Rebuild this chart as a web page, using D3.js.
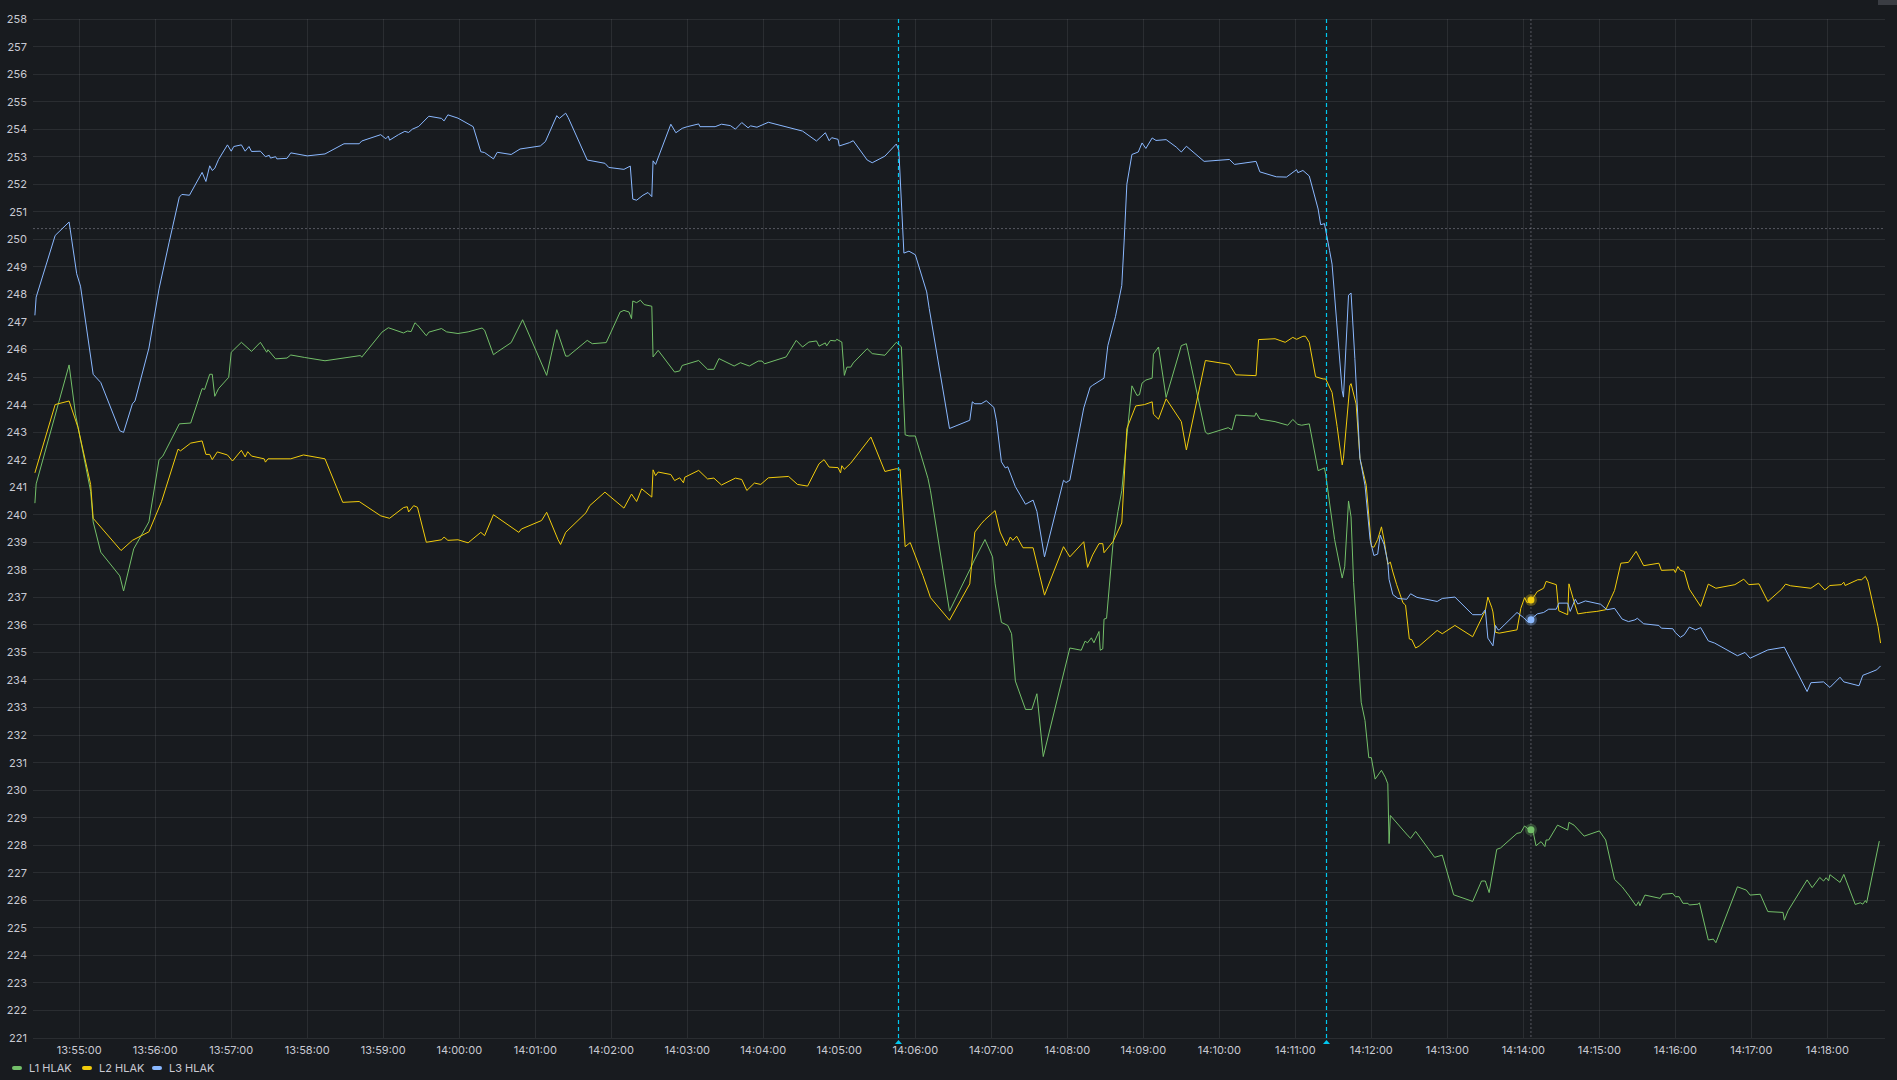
<!DOCTYPE html>
<html><head><meta charset="utf-8">
<script src="https://cdn.jsdelivr.net/npm/d3@7"></script>
<style>
html,body{margin:0;padding:0;background:#181b1f;overflow:hidden}
svg{display:block;font-family:Inter,"Noto Sans",sans-serif}
</style></head><body>
<svg id="chart" width="1897" height="1080"></svg>
<script>
// ---- data (time = seconds after 13:55:00) ----
const baseClock = "13:55:00";
const xDomainSec = [-36.5, 1425.5];
const yDomain = [221, 258];
const yTickValues = d3.range(221, 259);
const seriesNames = ["L1 HLAK", "L2 HLAK", "L3 HLAK"];
const seriesColors = ["#73BF69", "#F2CC0C", "#8AB8FF"];

const l1Sec = [-35,-34,-8,-3,9,11,17,32,35,43,55,63,66,79,88,97,99,103,105,107,110,118,120,128,136,143,148,149,155,164,167,178,194,222,223,239,244,256,259,262,265,267,274,276,286,290,299,307,318,320,327,330,341,350,369,377,384,386,401,405,416,427,430,434,436,437,440,443,446,452,453,457,470,474,476,489,496,501,505,517,522,529,536,539,541,558,566,571,576,582,584,589,590,593,597,598,602,604,606,609,611,622,626,636,645,649,652,655,660,670,672,687,703,707,715,721,723,728,733,736,739,747,752,756,761,782,791,794,796,799,801,805,806,808,809,811,816,820,823,827,831,835,837,839,842,847,848,852,858,870,874,889,891,907,910,913,928,929,932,944,954,958,962,965,971,978,983,984,991,997,999,1002,1004,1006,1012,1015,1018,1020,1023,1028,1031,1033,1034,1035,1049,1051,1055,1070,1076,1085,1100,1107,1110,1113,1119,1122,1135,1138,1141,1144,1147,1148,1150,1154,1157,1158,1160,1167,1175,1176,1180,1188,1200,1205,1212,1218,1223,1229,1231,1232,1236,1248,1250,1258,1260,1263,1266,1270,1271,1278,1279,1286,1290,1292,1309,1316,1319,1327,1333,1345,1346,1349,1364,1368,1374,1377,1379,1381,1382,1390,1393,1402,1406,1408,1410,1411,1421];
const l1Val = [240.42,241.12,245.44,243.66,240.85,239.74,238.64,237.78,237.23,238.76,239.74,242.0,242.13,243.3,243.33,244.58,244.55,245.1,245.1,244.3,244.58,244.99,245.9,246.26,245.93,246.26,245.9,245.99,245.66,245.69,245.8,245.71,245.59,245.78,245.72,246.63,246.79,246.6,246.67,246.65,246.97,246.89,246.5,246.63,246.76,246.64,246.58,246.64,246.78,246.7,245.81,245.91,246.25,247.08,245.06,246.72,245.76,245.76,246.33,246.21,246.25,247.36,247.42,247.36,247.12,247.76,247.7,247.79,247.63,247.57,245.73,245.97,245.18,245.22,245.42,245.6,245.28,245.28,245.67,245.4,245.52,245.4,245.58,245.58,245.48,245.73,246.33,246.09,246.27,246.31,246.12,246.24,246.13,246.33,246.31,246.37,246.27,245.06,245.36,245.36,245.51,246.03,245.85,245.79,246.26,246.1,242.9,242.86,242.86,241.32,240.87,236.5,238.0,238.39,239.1,238.47,237.49,236.09,235.98,235.68,233.96,232.93,232.93,233.5,231.22,235.16,235.08,235.41,235.35,235.53,235.35,235.76,235.08,235.13,236.21,236.24,238.92,240.12,240.87,242.83,244.68,244.33,244.36,244.78,244.89,244.96,245.83,246.09,244.26,246.14,246.21,243.0,242.93,243.16,243.08,243.62,243.58,243.7,243.47,243.38,243.25,243.46,243.28,243.25,243.3,241.6,241.7,241.45,239.1,237.7,238.11,240.5,239.92,237.54,233.19,232.53,231.18,231.18,230.4,230.72,230.47,230.23,228.06,229.08,228.34,228.25,228.5,227.56,227.64,226.2,225.96,226.7,226.7,226.28,227.85,227.9,228.43,228.46,228.7,228.58,228.55,228.43,227.98,228.13,227.95,228.19,228.19,228.73,228.55,228.83,228.73,228.33,228.52,228.19,226.76,226.49,226.19,225.8,225.95,225.8,226.19,226.07,226.22,226.25,226.13,226.13,225.89,225.89,225.83,225.86,225.91,224.56,224.59,224.46,226.49,226.37,226.19,226.22,225.59,225.56,225.28,225.62,226.74,226.46,226.83,226.7,226.82,226.71,226.93,226.65,226.94,225.85,225.91,225.86,225.99,225.91,228.15];

const l2Sec = [-35,-19,-8,-1,9,11,33,42,55,65,78,80,88,97,100,103,105,109,117,121,128,131,133,136,146,147,149,167,177,194,208,221,238,245,256,259,260,264,267,274,286,288,291,299,307,317,320,327,347,349,365,369,378,380,384,400,403,415,430,436,440,444,452,453,455,457,467,470,474,477,478,489,496,501,507,518,523,527,533,538,544,560,567,575,584,588,592,599,601,602,604,609,625,636,645,648,652,656,666,672,687,703,707,712,715,723,727,732,735,737,740,745,753,762,777,782,793,796,800,805,808,809,816,823,827,834,841,847,848,852,858,870,874,889,908,913,929,931,944,952,958,961,966,968,971,976,982,984,989,993,997,998,1003,1004,1008,1011,1016,1020,1022,1025,1028,1030,1033,1035,1037,1040,1045,1047,1050,1052,1055,1058,1072,1076,1086,1100,1110,1112,1115,1116,1118,1121,1135,1138,1141,1143,1147,1151,1156,1158,1166,1168,1175,1176,1180,1183,1190,1198,1205,1212,1217,1223,1229,1235,1247,1249,1259,1260,1262,1264,1267,1271,1280,1286,1292,1307,1314,1318,1326,1333,1344,1347,1351,1367,1373,1378,1382,1391,1393,1394,1404,1407,1410,1412,1417,1420,1422];
const l2Val = [241.52,244.0,244.13,243.17,241.1,239.87,238.7,239.07,239.38,240.48,242.38,242.32,242.6,242.68,242.19,242.19,242.0,242.28,242.17,241.95,242.34,242.1,242.29,242.13,242.03,241.91,242.03,242.03,242.17,242.03,240.45,240.48,239.96,239.87,240.26,240.29,240.1,240.33,240.27,239.0,239.09,239.19,239.07,239.09,238.98,239.36,239.24,240.0,239.36,239.48,239.79,240.09,239.09,238.92,239.36,240.07,240.33,240.82,240.24,240.75,240.48,240.94,240.64,241.63,241.42,241.55,241.46,241.24,241.34,241.16,241.36,241.61,241.3,241.33,241.08,241.33,241.28,240.88,241.15,241.1,241.34,241.39,241.1,241.04,241.85,242.0,241.73,241.71,241.52,241.78,241.65,241.87,242.82,241.57,241.67,241.65,238.84,238.99,237.79,236.99,236.17,237.49,239.37,239.67,239.82,240.15,239.37,238.87,239.19,239.07,239.22,238.8,238.8,237.08,238.84,238.47,239.02,238.09,238.54,238.95,238.95,238.62,239.02,239.7,243.13,243.95,244.0,244.1,243.65,243.47,244.21,243.38,242.35,245.6,245.46,245.08,245.05,246.36,246.39,246.26,246.44,246.37,246.48,246.48,246.26,245.01,244.93,244.93,244.44,243.2,241.81,242.05,244.68,244.76,244.02,242.05,241.07,238.85,238.82,239.1,239.56,239.1,238.2,238.28,237.92,237.46,236.8,236.72,235.49,235.46,235.16,235.24,235.8,235.68,235.98,235.57,236.52,237.01,236.64,236.47,235.73,235.7,235.82,236.6,236.99,236.81,236.93,237.21,237.33,237.58,237.46,236.51,236.37,237.49,236.85,236.4,236.45,236.49,236.55,237.25,238.24,238.27,238.67,238.15,238.24,237.98,238.0,237.9,238.12,237.98,237.94,237.3,236.67,237.48,237.33,237.46,237.66,237.46,237.49,236.85,237.3,237.48,237.42,237.33,237.52,237.27,237.43,237.46,237.55,237.43,237.64,237.64,237.76,237.58,236.55,235.94,235.34];

const l3Sec = [-35,-34,-19,-8,-2,1,11,17,32,35,42,44,55,63,71,79,81,87,97,100,103,105,107,110,117,120,122,128,131,134,136,143,147,150,151,155,156,164,167,180,194,209,221,223,238,242,244,245,252,257,260,263,268,276,286,288,291,299,311,317,320,327,330,341,348,364,368,377,379,384,386,401,415,418,430,435,437,440,445,449,452,453,455,467,471,476,480,489,490,502,507,514,518,523,528,530,535,544,571,582,589,592,594,599,600,608,611,622,626,636,645,647,651,655,660,669,671,687,703,705,707,712,716,722,724,728,731,733,739,747,753,756,762,777,779,782,793,798,800,809,812,818,823,825,827,831,836,839,842,847,850,858,866,870,874,888,908,912,929,932,945,953,961,962,966,971,978,980,983,987,989,997,998,1002,1004,1007,1011,1015,1019,1022,1025,1027,1030,1033,1034,1037,1041,1048,1051,1056,1072,1076,1086,1100,1107,1110,1112,1116,1118,1120,1121,1135,1140,1144,1147,1151,1156,1160,1166,1168,1175,1177,1181,1183,1189,1201,1206,1212,1218,1223,1228,1230,1235,1247,1249,1258,1260,1264,1267,1271,1276,1280,1286,1291,1309,1315,1319,1333,1346,1364,1367,1377,1382,1390,1393,1405,1408,1412,1419,1422];
const l3Val = [247.24,247.9,250.14,250.63,248.75,248.3,245.1,244.8,243.05,242.99,244.03,244.13,246.05,248.2,249.9,251.53,251.63,251.6,252.43,252.1,252.67,252.5,252.58,252.9,253.43,253.2,253.37,253.43,253.2,253.37,253.19,253.2,253.0,253.05,252.95,253.0,252.92,252.94,253.14,253.03,253.1,253.47,253.47,253.57,253.8,253.65,253.75,253.6,253.8,253.92,253.88,254.0,254.1,254.47,254.39,254.3,254.52,254.4,254.09,253.18,253.15,252.92,253.16,253.08,253.28,253.39,253.55,254.49,254.39,254.58,254.42,252.88,252.76,252.61,252.54,252.66,251.46,251.42,251.6,251.7,251.55,252.85,252.72,254.18,253.87,254.03,254.09,254.19,254.09,254.09,254.18,254.13,254.0,254.24,254.05,254.12,254.07,254.25,253.93,253.57,253.87,253.58,253.69,253.63,253.39,253.51,253.58,252.88,252.78,253.02,253.46,253.24,249.5,249.57,249.44,248.09,247.49,243.13,243.43,244.1,244.03,244.03,244.14,243.9,243.43,241.92,241.7,241.74,241.02,240.38,240.53,240.12,238.47,241.25,241.17,241.25,243.88,244.63,244.7,244.96,246.14,247.19,248.32,250.05,252.0,253.08,253.17,253.5,253.3,253.68,253.59,253.62,253.35,253.17,253.38,252.83,252.9,252.72,252.83,252.45,252.27,252.26,252.53,252.42,252.5,252.3,251.1,250.53,250.57,249.6,249.1,244.5,244.27,247.97,248.05,245.67,242.05,241.07,239.1,238.52,238.57,239.26,238.93,238.28,237.65,237.1,236.96,236.93,237.13,237.0,236.85,236.96,237.01,236.37,236.37,236.55,235.52,235.24,235.98,235.82,235.82,236.45,236.27,236.09,236.24,236.4,236.45,236.57,236.57,236.79,236.79,236.49,236.93,236.76,236.87,236.75,236.55,236.6,236.21,236.12,236.18,236.24,236.04,235.98,235.88,235.86,235.72,235.55,235.64,235.92,235.82,235.9,235.42,235.34,234.88,235.0,234.79,235.09,235.19,233.58,233.9,233.93,233.73,234.1,233.93,233.79,234.17,234.24,234.37,234.51];

const annotationSec = [646, 984];   // 14:05:46, 14:11:24
const hoverSec = 1146;             // crosshair time 14:14:06
const hoverValue = 250.39;         // crosshair horizontal level

// ---- chart ----
const svg = d3.select("#chart");
const W = 1897, H = 1080;
const plot = {left: 33, right: 1885, top: 19, bottom: 1038};
const [bh, bm, bs] = baseClock.split(":").map(Number);
const base = new Date(2024, 0, 1, bh, bm, bs);
const toDate = s => new Date(base.getTime() + s * 1000);

const x = d3.scaleTime().domain(xDomainSec.map(toDate)).range([plot.left, plot.right]);
const y = d3.scaleLinear().domain(yDomain).range([plot.bottom, plot.top]);

svg.append("rect").attr("width", W).attr("height", H).attr("fill", "#181b1f");

const gridColor = "rgba(204,204,220,0.10)";
const textColor = "#c9cad3";

// horizontal grid + y labels
const gy = svg.append("g");
gy.selectAll("line").data(yTickValues).join("line")
  .attr("x1", plot.left).attr("x2", plot.right)
  .attr("y1", d => y(d)).attr("y2", d => y(d))
  .attr("stroke", gridColor).attr("stroke-width", 1).attr("shape-rendering", "crispEdges");
gy.selectAll("text").data(yTickValues).join("text")
  .attr("x", 27).attr("y", d => y(d)).attr("dy", "0.36em")
  .attr("text-anchor", "end").attr("font-size", 11).attr("fill", textColor)
  .text(d => d);

// vertical grid + x labels
const xTicks = x.ticks(d3.timeMinute.every(1));
const fmt = d3.timeFormat("%H:%M:%S");
const gx = svg.append("g");
gx.selectAll("line").data(xTicks).join("line")
  .attr("x1", d => x(d)).attr("x2", d => x(d))
  .attr("y1", plot.top).attr("y2", plot.bottom)
  .attr("stroke", gridColor).attr("stroke-width", 1).attr("shape-rendering", "crispEdges");
gx.selectAll("text").data(xTicks).join("text")
  .attr("x", d => x(d)).attr("y", 1054)
  .attr("text-anchor", "middle").attr("font-size", 11).attr("fill", textColor)
  .text(d => fmt(d));

// series
const series = [
  {name: seriesNames[0], color: seriesColors[0], sec: l1Sec, val: l1Val},
  {name: seriesNames[1], color: seriesColors[1], sec: l2Sec, val: l2Val},
  {name: seriesNames[2], color: seriesColors[2], sec: l3Sec, val: l3Val}
];
const line = d3.line().x(d => x(toDate(d[0]))).y(d => y(d[1]));
const clip = svg.append("clipPath").attr("id", "clip").append("rect")
  .attr("x", plot.left).attr("y", plot.top).attr("width", plot.right - plot.left).attr("height", plot.bottom - plot.top);
const gl = svg.append("g").attr("clip-path", "url(#clip)");
series.forEach(s => {
  const pts = s.sec.map((t, i) => [t, s.val[i]]);
  gl.append("path").datum(pts).attr("d", line)
    .attr("fill", "none").attr("stroke", s.color).attr("stroke-width", 1)
    .attr("stroke-linejoin", "round");
});

// crosshair
const hx = x(toDate(hoverSec));
svg.append("line").attr("x1", hx).attr("x2", hx).attr("y1", plot.top).attr("y2", plot.bottom)
  .attr("stroke", "rgba(204,204,220,0.35)").attr("stroke-dasharray", "2,2");
svg.append("line").attr("x1", plot.left).attr("x2", plot.right).attr("y1", y(hoverValue)).attr("y2", y(hoverValue))
  .attr("stroke", "rgba(204,204,220,0.35)").attr("stroke-dasharray", "2,2");

// annotations
const annColor = "#00c8f0";
annotationSec.forEach(a => {
  const ax = Math.round(x(toDate(a))) + 0.5;
  svg.append("line").attr("x1", ax).attr("x2", ax).attr("y1", plot.top).attr("y2", plot.bottom + 2)
    .attr("stroke", annColor).attr("stroke-width", 1.2).attr("stroke-dasharray", "4,3");
  svg.append("path").attr("d", `M${ax},${plot.bottom + 2} L${ax + 3.5},${plot.bottom + 6} L${ax - 3.5},${plot.bottom + 6} Z`)
    .attr("fill", annColor);
});

// hover points (interpolated from each series)
series.forEach(s => {
  const i = d3.bisectLeft(s.sec, hoverSec);
  const t0 = s.sec[i - 1], t1 = s.sec[i];
  const v = s.val[i - 1] + (s.val[i] - s.val[i - 1]) * (hoverSec - t0) / (t1 - t0);
  svg.append("circle").attr("cx", hx).attr("cy", y(v)).attr("r", 6).attr("fill", s.color).attr("opacity", 0.3);
  svg.append("circle").attr("cx", hx).attr("cy", y(v)).attr("r", 3.5).attr("fill", s.color);
});

// legend
const lg = svg.append("g");
const legendX = [12, 82, 152];
series.forEach((s, i) => {
  lg.append("rect").attr("x", legendX[i]).attr("y", 1066).attr("width", 10).attr("height", 4).attr("rx", 2)
    .attr("fill", s.color);
  lg.append("text").attr("x", legendX[i] + 17).attr("y", 1072).attr("font-size", 11).attr("fill", textColor)
    .text(s.name);
});

// small corner element
svg.append("rect").attr("x", 1878).attr("y", 0).attr("width", 19).attr("height", 5).attr("fill", "#3a3d43");
</script>
</body></html>
